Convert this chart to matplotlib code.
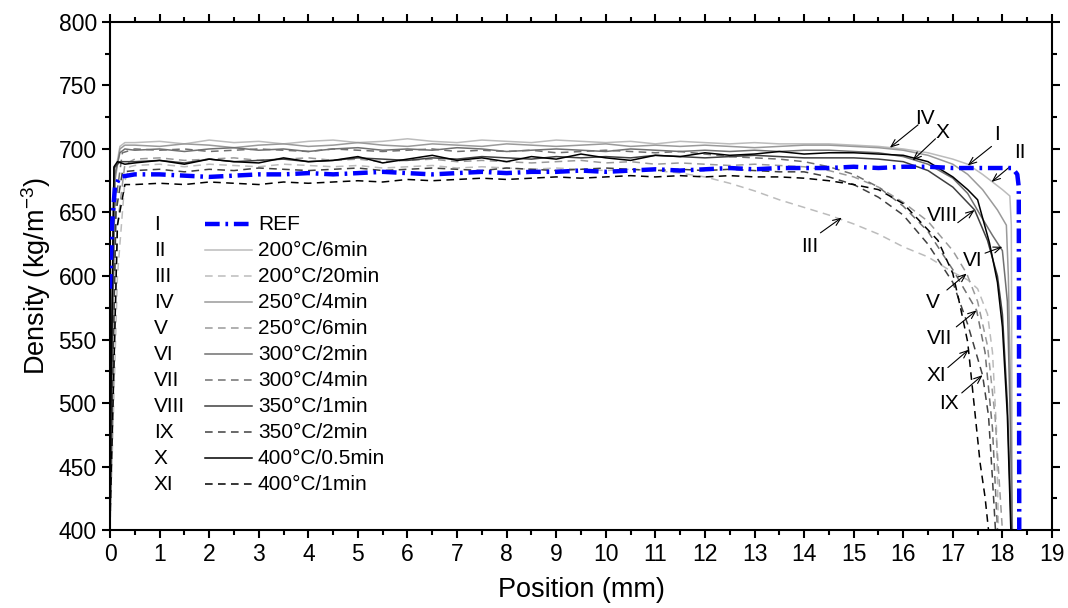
import numpy as np
import matplotlib
matplotlib.use('Agg')
from matplotlib import pyplot as plt

plt.rcParams['font.family'] = ['Liberation Sans', 'DejaVu Sans']
plt.rcParams['mathtext.fontset'] = 'custom'
plt.rcParams['mathtext.rm'] = 'Liberation Sans'
plt.rcParams['mathtext.it'] = 'Liberation Sans:italic'

# series names
numerals = ['I', 'II', 'III', 'IV', 'V', 'VI', 'VII', 'VIII', 'IX', 'X', 'XI']
labels = ['REF', '200°C/6min', '200°C/20min', '250°C/4min', '250°C/6min',
          '300°C/2min', '300°C/4min', '350°C/1min', '350°C/2min',
          '400°C/0.5min', '400°C/1min']

# shared plateau positions (mm)
x_mid = np.arange(0.5, 14.01, 0.5)

# rising part at the face: positions, densities
head_x = {
    'I': [0, 0.04, 0.1, 0.2],
    'II': [0, 0.1, 0.2, 0.3],
    'III': [0, 0.15, 0.3, 0.4],
    'IV': [0, 0.1, 0.2, 0.3],
    'V': [0, 0.15, 0.3],
    'VI': [0, 0.1, 0.2, 0.3],
    'VII': [0, 0.12, 0.25],
    'VIII': [0, 0.08, 0.2],
    'IX': [0, 0.12, 0.25],
    'X': [0, 0.08, 0.15, 0.3],
    'XI': [0, 0.15, 0.3],
}
head_y = {
    'I': [590, 640, 670, 678],
    'II': [420, 680, 702, 705],
    'III': [400, 600, 675, 686],
    'IV': [415, 675, 700, 703],
    'V': [405, 640, 688],
    'VI': [430, 680, 697, 700],
    'VII': [410, 660, 697],
    'VIII': [440, 685, 690],
    'IX': [410, 650, 682],
    'X': [450, 686, 690, 688],
    'XI': [405, 640, 672],
}

# plateau densities at x_mid
mid_y = {
    'I': [680, 680, 679, 678, 679, 680, 680, 681, 680, 681, 682, 681, 680, 681,
          682, 681, 682, 682, 683, 682, 683, 684, 683, 684, 685, 684, 685, 685],
    'II': [705, 706, 704, 707, 705, 706, 704, 706, 707, 705, 706, 708, 706, 705,
           707, 706, 705, 707, 706, 705, 706, 704, 706, 705, 704, 705, 704, 704],
    'III': [687, 688, 686, 688, 687, 686, 688, 687, 686, 687, 685, 686, 687, 685,
            686, 685, 684, 685, 684, 683, 684, 683, 681, 678, 673, 667, 660, 654],
    'IV': [703, 702, 704, 703, 701, 703, 704, 702, 703, 705, 703, 702, 704, 703,
           702, 704, 703, 702, 703, 704, 702, 703, 702, 703, 702, 701, 702, 703],
    'V': [692, 693, 691, 692, 693, 691, 692, 693, 691, 692, 690, 691, 692, 690,
          691, 690, 689, 690, 691, 689, 690, 688, 689, 688, 687, 688, 687, 686],
    'VI': [699, 700, 698, 700, 701, 699, 700, 698, 700, 701, 699, 700, 699, 701,
           700, 698, 699, 700, 699, 698, 700, 699, 698, 699, 698, 699, 698, 699],
    'VII': [700, 699, 700, 698, 699, 700, 699, 698, 700, 699, 698, 699, 700, 698,
            699, 698, 699, 697, 698, 699, 698, 697, 698, 696, 694, 693, 692, 690],
    'VIII': [690, 691, 689, 692, 690, 691, 692, 690, 691, 693, 692, 691, 693, 692,
             694, 693, 692, 694, 693, 694, 693, 695, 694, 693, 694, 695, 694, 693],
    'IX': [683, 684, 682, 684, 683, 685, 684, 683, 684, 685, 683, 684, 685, 684,
           683, 685, 684, 683, 684, 685, 684, 683, 684, 683, 684, 683, 682, 682],
    'X': [689, 691, 688, 692, 690, 689, 693, 690, 691, 694, 689, 692, 695, 691,
          693, 690, 694, 692, 696, 693, 691, 695, 694, 697, 695, 696, 698, 696],
    'XI': [672, 673, 672, 674, 673, 672, 674, 673, 674, 675, 674, 676, 675, 676,
           677, 676, 677, 678, 677, 678, 679, 678, 679, 678, 679, 678, 678, 677],
}

# falling part at the back face
tail_x = {
    'I': [14.5, 15, 15.5, 16, 16.5, 17, 17.5, 18, 18.2, 18.3, 18.33, 18.34],
    'II': [14.5, 15, 15.5, 16, 16.5, 17, 17.3, 17.6, 17.8, 18.0, 18.15, 18.18, 18.2],
    'III': [14.5, 15, 15.5, 16, 16.5, 17, 17.3, 17.5, 17.7, 17.8, 17.88, 17.92],
    'IV': [14.5, 15, 15.5, 16, 16.5, 17, 17.3, 17.6, 17.9, 18.08, 18.12, 18.17, 18.2],
    'V': [14.5, 15, 15.5, 16, 16.5, 17, 17.28, 17.5, 17.7, 17.85, 17.95, 18.0],
    'VI': [14.5, 15, 15.5, 16, 16.5, 17, 17.3, 17.6, 17.8, 18.0, 18.1, 18.15, 18.2],
    'VII': [14.5, 15, 15.5, 16, 16.5, 17, 17.3, 17.48, 17.65, 17.8, 17.9],
    'VIII': [14.5, 15, 15.5, 16, 16.5, 17, 17.44, 17.7, 17.9, 18.0, 18.1, 18.18],
    'IX': [14.5, 15, 15.5, 16, 16.5, 17, 17.3, 17.6, 17.72, 17.8, 17.86],
    'X': [14.5, 15, 15.5, 16, 16.5, 17, 17.3, 17.5, 17.74, 17.9, 18.0, 18.1, 18.17],
    'XI': [14.5, 15, 15.5, 16, 16.7, 17.0, 17.15, 17.3, 17.4, 17.55, 17.65, 17.72],
}
tail_y = {
    'I': [685, 686, 685, 686, 686, 685, 685, 685, 685, 680, 670, 400],
    'II': [704, 703, 702, 700, 697, 692, 688, 680, 674, 668, 663, 640, 400],
    'III': [648, 641, 633, 623, 615, 603, 597, 590, 570, 540, 480, 400],
    'IV': [703, 702, 701, 699, 695, 688, 680, 668, 652, 640, 600, 500, 400],
    'V': [683, 678, 670, 658, 643, 620, 602, 580, 545, 490, 430, 400],
    'VI': [699, 698, 697, 694, 688, 677, 665, 645, 632, 620, 580, 500, 400],
    'VII': [686, 680, 670, 655, 635, 605, 585, 573, 540, 480, 400],
    'VIII': [693, 693, 692, 690, 683, 670, 652, 628, 600, 570, 500, 400],
    'IX': [678, 672, 662, 648, 625, 595, 562, 522, 490, 440, 400],
    'X': [697, 697, 696, 695, 690, 678, 668, 660, 626, 595, 560, 490, 400],
    'XI': [675, 672, 668, 657, 628, 602, 576, 548, 510, 453, 426, 400],
}

colors = {'I': '#0000ff', 'II': '#bcbcbc', 'III': '#bcbcbc', 'IV': '#9a9a9a',
          'V': '#9a9a9a', 'VI': '#707070', 'VII': '#707070', 'VIII': '#404040',
          'IX': '#404040', 'X': '#000000', 'XI': '#000000'}

# annotation: label, text position, arrow tail, arrow tip
notes = [
    ('IV', (16.43, 724), (16.3, 719), (15.73, 701)),
    ('X', (16.8, 713), (16.65, 708), (16.19, 691)),
    ('I', (17.9, 711), (17.78, 702), (17.3, 687)),
    ('II', (18.35, 697), (18.15, 686), (17.78, 674)),
    ('VIII', (16.8, 648), (17.1, 642), (17.44, 652)),
    ('III', (14.11, 623), (14.33, 634), (14.76, 646)),
    ('VI', (17.4, 612), (17.65, 618), (18.0, 623)),
    ('V', (16.6, 579), (16.88, 589), (17.28, 602)),
    ('VII', (16.73, 551), (17.07, 560), (17.48, 573)),
    ('XI', (16.67, 522), (16.9, 528), (17.32, 542)),
    ('IX', (16.93, 500), (17.18, 508), (17.6, 522)),
]

ref_style = (0, (3.3, 1.3, 0.6, 1.3))
dash_style = (0, (5, 3.5))

fig = plt.figure(figsize=(10.68, 6.08), dpi=100)
ax = fig.add_axes([0.103, 0.128, 0.882, 0.836])

styles = {}
for n in numerals[1:] + ['I']:
    xs = np.concatenate([head_x[n], x_mid, tail_x[n]])
    ys = np.concatenate([head_y[n], mid_y[n], tail_y[n]])
    if n == 'I':
        st = dict(color=colors[n], lw=3.2, linestyle=ref_style)
    elif numerals.index(n) % 2 == 0:
        st = dict(color=colors[n], lw=1.1, linestyle=dash_style)
    else:
        st = dict(color=colors[n], lw=1.1, linestyle='-')
    styles[n] = st
    ax.plot(xs, ys, zorder=5 if n == 'I' else 2, **st)

for lab, tpos, tail, tip in notes:
    ax.text(tpos[0], tpos[1], lab, fontsize=15, ha='center', va='center')
    ax.annotate('', xy=tip, xytext=tail,
                arrowprops=dict(arrowstyle='->,head_length=0.55,head_width=0.22',
                                lw=0.8, color='black', shrinkA=0, shrinkB=0))

# legend drawn by hand
for i, n in enumerate(numerals):
    yy = 0.602 - i * 0.0512
    ax.text(0.0467, yy, n, transform=ax.transAxes, fontsize=15, va='center', ha='left')
    ax.plot([0.101, 0.151], [yy, yy], transform=ax.transAxes, **styles[n])
    ax.text(0.157, yy, labels[i], transform=ax.transAxes, fontsize=15,
            va='center', ha='left')

ax.set_xlim(0, 19)
ax.set_ylim(400, 800)
ax.set_xticks(np.arange(0, 20, 1))
ax.set_xticks(np.arange(0.5, 19, 1), minor=True)
ax.set_yticks(np.arange(400, 801, 50))
ax.set_yticks(np.arange(425, 800, 50), minor=True)
ax.tick_params(which='both', direction='out', top=True, right=True,
               labeltop=False, labelright=False, width=1.5, labelsize=16.5)
ax.tick_params(which='major', length=6)
ax.tick_params(which='minor', length=3.5)
for s in ax.spines.values():
    s.set_linewidth(1.5)

ax.set_xlabel('Position (mm)', fontsize=19.5, labelpad=8)
ax.set_ylabel('Density (kg/m$^{-3}$)', fontsize=19.5, labelpad=4)

fig.savefig('out.png', dpi=100)
